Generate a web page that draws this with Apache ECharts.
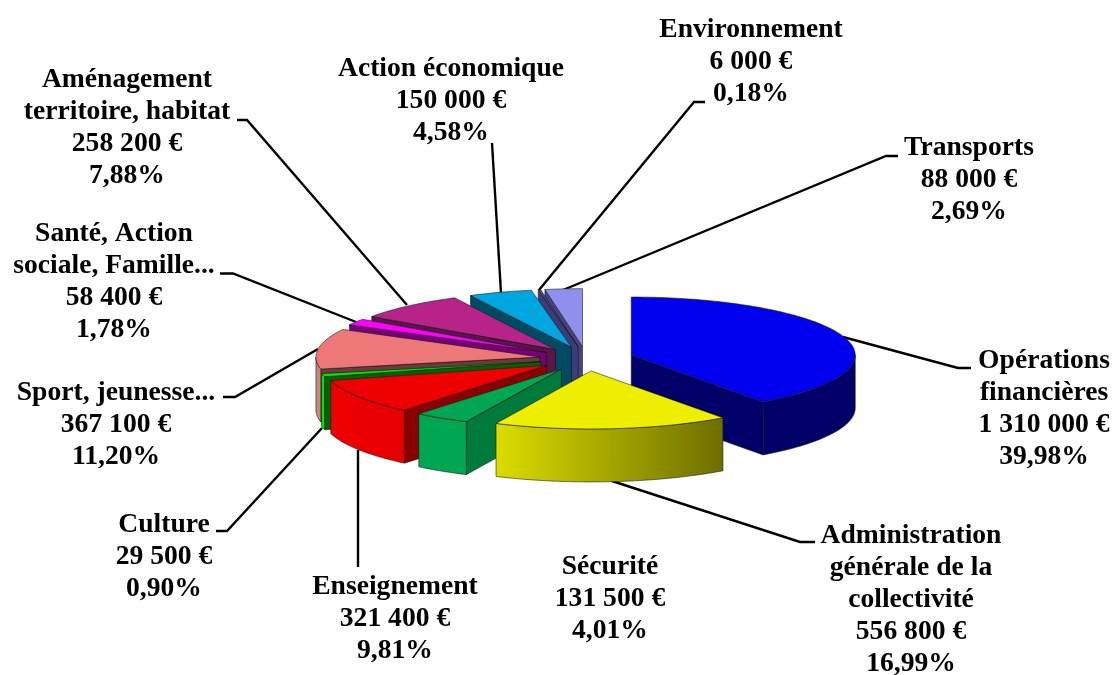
<!DOCTYPE html>
<html><head><meta charset="utf-8">
<style>html,body{margin:0;padding:0;background:#fff}#c{width:1115px;height:675px}</style>
<script src="https://cdn.jsdelivr.net/npm/echarts@6/dist/echarts.min.js"></script>
</head><body><div id="c"></div>
<script>
// Data, clockwise from 12 o'clock
const categories = ['Opérations\nfinancières','Administration\ngénérale de la\ncollectivité','Sécurité','Enseignement','Culture','Sport, jeunesse...','Santé, Action\nsociale, Famille...','Aménagement\nterritoire, habitat','Action économique','Environnement','Transports'];
const amounts = [1310000,556800,131500,321400,29500,367100,58400,258200,150000,6000,88000];
const amountLabels = ['1 310 000 €','556 800 €','131 500 €','321 400 €','29 500 €','367 100 €','58 400 €','258 200 €','150 000 €','6 000 €','88 000 €'];
const percentLabels = ['39,98%','16,99%','4,01%','9,81%','0,90%','11,20%','1,78%','7,88%','4,58%','0,18%','2,69%'];

// Styles
const topColors = ['#0000ee','#eeee00','#00a651','#ee0000','#00e600','#ee7777','#ff00ff','#b8238a','#00a6e0','#4a4a90','#8f8fee'];
const outerColors = [['#000068','#000068'],['#dcdc00','#6e6e00'],['#00a651','#00a651'],['#ee0000','#e60000'],['#00e600','#00e600'],['#b98a8a','#ee7777'],['#ff00ff','#ff00ff'],['#b8238a','#b8238a'],['#00a6e0','#00a6e0'],['#4a4a90','#4a4a90'],['#8f8fee','#8f8fee']];
const wallColors = ['#000068','#6e6e00','#007a3a','#8b0000','#006400','#6b3a3a','#760076','#5a1648','#004a64','#3c3c78','#46467e'];

// Layout
const center = [586.5, 358.8], rx = 224, ry = 58, depth = 53, explode = 0.21;
const labelCenters = [[1044,345],[911,520],[610,551],[395,571],[164,509],[116,377],[114,218],[127,64],[451,53],[751,14],[969,132]];
const leaders = [
  [[971,368],[958,368],[843,337]],
  [[815,542],[800,542],[612,481]],
  null,
  [[358,567],[358,450]],
  [[216,531],[227,531],[322,428]],
  [[223,397],[235,397],[318,349]],
  [[220,273.5],[233,273.5],[356,322]],
  [[237,120],[247,120],[407,305]],
  [[492,143],[501,293]],
  [[705,102],[694,102],[539,290]],
  [[898,156],[886,156],[563,290]]
];

const total = amounts.reduce((a, b) => a + b, 0);
let cum = 0;
const slices = amounts.map((v, i) => {
  const start = cum / total * 2 * Math.PI; cum += v;
  const end = cum / total * 2 * Math.PI, mid = (start + end) / 2;
  return {i, start, end, mid, cx: center[0] + Math.sin(mid) * rx * explode, cy: center[1] - Math.cos(mid) * ry * explode};
});
// Painter's order: farthest slices first
const order = slices.slice().sort((a, b) => Math.cos(b.mid) - Math.cos(a.mid));
const edge = {stroke: 'rgba(20,20,20,0.8)', lineWidth: 0.7, lineJoin: 'round'};

function pt(s, a, dz) { return [s.cx + Math.sin(a) * rx, s.cy - Math.cos(a) * ry + (dz || 0)]; }
function arc(s, a0, a1, dz) {
  const n = Math.max(2, Math.ceil(Math.abs(a1 - a0) / 0.02)), p = [];
  for (let k = 0; k <= n; k++) p.push(pt(s, a0 + (a1 - a0) * k / n, dz));
  return p;
}
function poly(points, fill) {
  return {type: 'polygon', shape: {points}, style: Object.assign({fill}, edge)};
}
function radialWall(s, a, fill) {
  const o = pt(s, a, 0), od = pt(s, a, depth);
  return poly([[s.cx, s.cy], o, od, [s.cx, s.cy + depth]], fill);
}
function renderSlice(params, api) {
  const s = order[api.value(0)], c = [];
  if (Math.sin(s.start) < -1e-6) c.push(radialWall(s, s.start, wallColors[s.i]));
  if (Math.sin(s.end) > 1e-6) c.push(radialWall(s, s.end, wallColors[s.i]));
  const a0 = Math.max(s.start, Math.PI / 2), a1 = Math.min(s.end, Math.PI * 1.5);
  if (a1 > a0) {
    const front = arc(s, a0, a1, 0), back = arc(s, a1, a0, depth);
    const xs = front.map(p => p[0]);
    const minX = Math.min(...xs), maxX = Math.max(...xs);
    const oc = outerColors[s.i];
    c.push(poly(front.concat(back), {
      type: 'linear', x: minX, y: 0, x2: maxX, y2: 0, global: true,
      colorStops: [{offset: 0, color: oc[0]}, {offset: 1, color: oc[1]}]
    }));
  }
  c.push(poly([[s.cx, s.cy]].concat(arc(s, s.start, s.end, 0)), topColors[s.i]));
  return {type: 'group', children: c};
}
function renderLabel(params, api) {
  const i = api.value(0), c = [];
  if (leaders[i]) c.push({type: 'polyline', shape: {points: leaders[i]}, style: {fill: 'none', stroke: '#000', lineWidth: 2.4}});
  c.push({type: 'text', x: labelCenters[i][0], y: labelCenters[i][1], style: {
    text: categories[i] + '\n' + amountLabels[i] + '\n' + percentLabels[i],
    align: 'center', verticalAlign: 'top', fill: '#000',
    font: 'bold 27.6px "Liberation Serif", serif', lineHeight: 32
  }});
  return {type: 'group', children: c};
}
const chart = echarts.init(document.getElementById('c'), null, {renderer: 'canvas'});
chart.setOption({
  backgroundColor: '#fff', animation: false, tooltip: {show: false},
  series: [
    {type: 'custom', coordinateSystem: 'none', silent: true, renderItem: renderLabel, z: 1,
     data: amounts.map((v, i) => [i]), encode: {}},
    {type: 'custom', coordinateSystem: 'none', silent: true, renderItem: renderSlice, z: 2,
     data: order.map((s, k) => [k]), encode: {}}
  ]
});
</script></body></html>
